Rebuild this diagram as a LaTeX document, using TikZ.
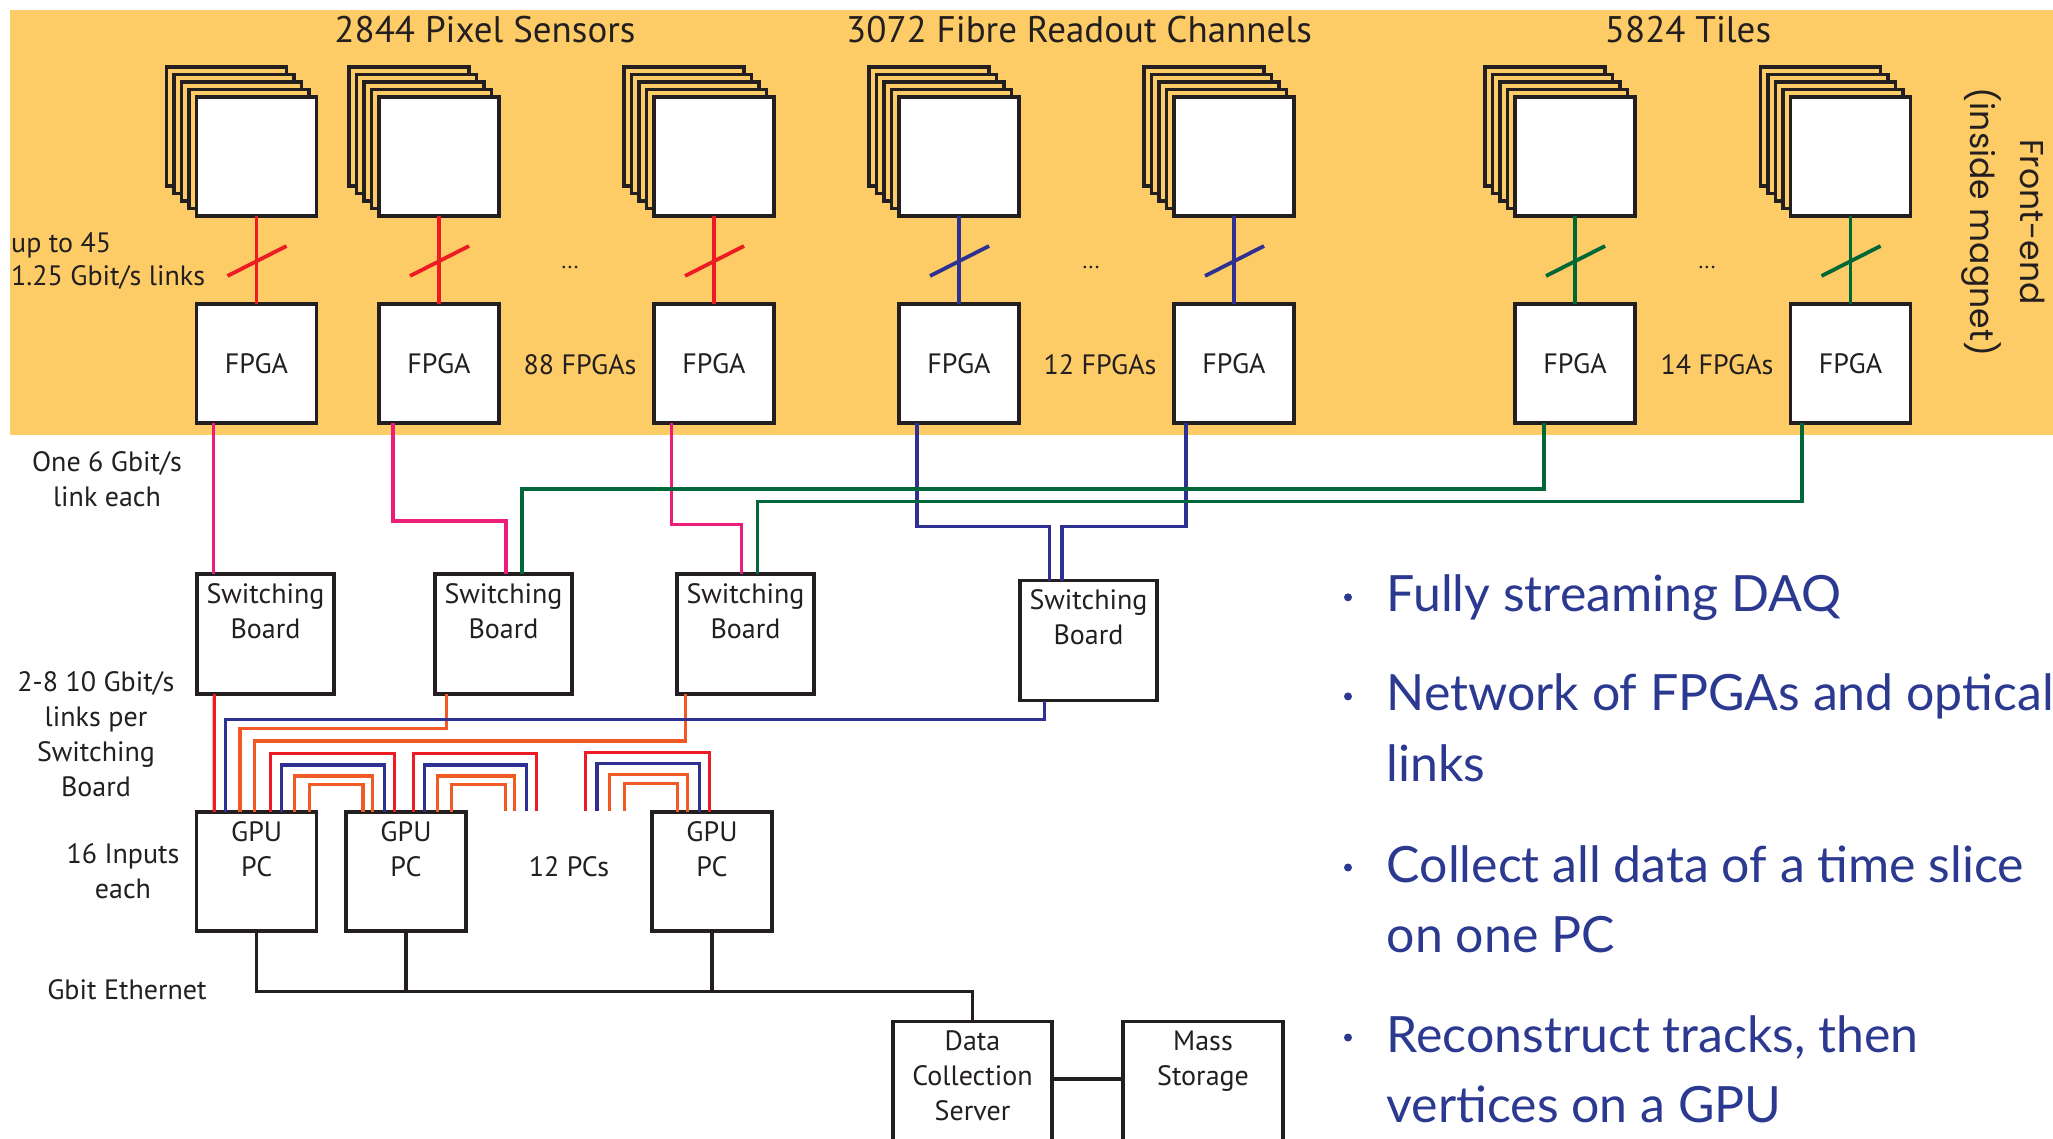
\documentclass[tikz,border=0pt]{standalone}
\usepackage{fontspec}
\setmainfont{PT Sans}
\newfontfamily\geofont{Poppins}
\newfontfamily\slidefont{Lato}
\usetikzlibrary{calc}

\definecolor{bgorange}{RGB}{254,204,102}
\definecolor{ink}{RGB}{35,31,32}
\definecolor{linkred}{RGB}{237,28,36}
\definecolor{linkpink}{RGB}{236,30,121}
\definecolor{linkblue}{RGB}{46,49,146}
\definecolor{linkgreen}{RGB}{0,104,56}
\definecolor{linkorange}{RGB}{241,90,36}
\definecolor{textblue}{RGB}{43,57,144}

\newcommand\lblfont{\fontsize{28}{35}\selectfont}
\newcommand\titlefont{\fontsize{37}{44}\selectfont}

\tikzset{
  box/.style={draw=ink, line width=3.5, fill=white, inner sep=0, outer sep=0,
    minimum width=120, minimum height=119, text=ink},
  layer/.style={draw=ink, line width=3.2, fill=bgorange},
  board/.style={box, minimum width=137, minimum height=120},
  boxtext/.style={anchor=north, align=center, inner sep=9, font=\lblfont, text=ink},
  lbl/.style={font=\lblfont, text=ink, align=center, inner sep=0},
  title/.style={font=\titlefont, text=ink, inner sep=0},
  dots/.style={font=\fontsize{22}{22}\selectfont, text=ink, inner sep=0},
  link/.style={line width=3.1},
  slash/.style={line width=3.8},
  eth/.style={draw=ink, line width=3.2},
  point/.style={font=\slidefont\fontsize{50}{70.5}\selectfont, text=textblue,
    anchor=base west, align=left, inner sep=0},
}

\begin{document}
\begin{tikzpicture}[x=1pt, y=-1pt]
  \useasboundingbox (0,0) rectangle (2053,1139);
  \clip (0,0) rectangle (2053,1139);
  \fill[white] (0,0) rectangle (2053,1139);
  % front-end area
  \fill[bgorange] (10,10) rectangle (2053,435);
  \node[title] (tpix) at (485,30) {2844 Pixel Sensors};
  \node[title] (tfib) at (1079,30) {3072 Fibre Readout Channels};
  \node[title] (ttil) at (1688,30) {5824 Tiles};
  \node[font=\geofont\fontsize{33}{50}\selectfont, rotate=-90, align=center, text=ink]
    (fe) at (2003,222) {Front-end\\(inside magnet)};

  % sensor stacks, optical links, FPGAs
  \foreach \cx/\i/\lc in {256.5/1/linkred, 439/2/linkred, 714/3/linkred,
      959/4/linkblue, 1234/5/linkblue, 1575/6/linkgreen, 1850.5/7/linkgreen}{
    \foreach \k in {4,3,2,1}
      \draw[layer] (\cx-60-7.5*\k, 97-7.5*\k) rectangle ++(120,119);
    \node[box] (s\i) at (\cx,156.5) {};
    \node[box, font=\lblfont] (f\i) at (\cx,363.5) {FPGA};
    \draw[link, draw=\lc] (s\i) -- (f\i);
    \draw[slash, draw=\lc] ($(s\i.south)!.5!(f\i.north)+(-29,16)$) -- ++(59,-30);
  }
  \node[dots] (d1) at (570,267) {...};
  \node[dots] (d2) at (1091,267) {...};
  \node[dots] (d3) at (1707,267) {...};
  \node[lbl] (nf1) at (580,365) {88 FPGAs};
  \node[lbl] (nf2) at (1100,365) {12 FPGAs};
  \node[lbl] (nf3) at (1717,365) {14 FPGAs};
  \node[lbl, align=left, anchor=west, font=\fontsize{28}{33}\selectfont]
    (uplinks) at (11,261.5) {up to 45\\1.25 Gbit/s links};

  % switching boards
  \node[board, label={[boxtext]north:Switching\\Board}] (sb1) at (265.5,634) {};
  \node[board, label={[boxtext]north:Switching\\Board}] (sb2) at (503.5,634) {};
  \node[board, label={[boxtext]north:Switching\\Board}] (sb3) at (745.5,634) {};
  \node[board, label={[boxtext]north:Switching\\Board}] (sb4) at (1088.5,640.5) {};

  % GPU PCs and servers
  \node[box, label={[boxtext]north:GPU\\PC}] (gpu1) at (256.7,871.7) {};
  \node[box, label={[boxtext]north:GPU\\PC}] (gpu2) at (406,871.7) {};
  \node[box, label={[boxtext]north:GPU\\PC}] (gpu3) at (712,871.7) {};
  \node[box, minimum width=159, minimum height=128.6,
    label={[boxtext]north:Data\\Collection\\Server}] (dcs) at (972.5,1086) {};
  \node[box, minimum width=160, minimum height=128.6,
    label={[boxtext]north:Mass\\Storage}] (ms) at (1203,1086) {};

  % side labels
  \node[lbl] (onelink) at (107,479) {One 6 Gbit/s\\link each};
  \node[lbl] (perboard) at (96,734) {2-8 10 Gbit/s\\links per\\Switching\\Board};
  \node[lbl] (inputs) at (123,871) {16 Inputs\\each};
  \node[lbl] (ethlbl) at (127,990) {Gbit Ethernet};
  \node[lbl] (npcs) at (569,867) {12 PCs};

  % FPGA -> switching board links
  \draw[link, draw=linkpink] ([xshift=17]f1.south west) -- ([xshift=16.5]sb1.north west);
  \draw[link, draw=linkpink] ([xshift=14]f2.south west) -- ++(0,98) -| ([xshift=71]sb2.north west);
  \draw[link, draw=linkpink] ([xshift=17.6]f3.south west) -- ++(0,101.6) -| ([xshift=64.7]sb3.north west);
  \draw[link, draw=linkblue] ([xshift=18]f4.south west) -- ++(0,103.7) -| ([xshift=29.6]sb4.north west);
  \draw[link, draw=linkblue] ([xshift=12]f5.south west) -- ++(0,103.7) -| ([xshift=42]sb4.north west);
  \draw[link, draw=linkgreen] ([xshift=29]f6.south west) -- ++(0,66) -| ([xshift=87]sb2.north west);
  \draw[link, draw=linkgreen] ([xshift=11.5]f7.south west) -- ++(0,78.7) -| ([xshift=80.7]sb3.north west);

  % switching board -> PC links
  \draw[link, draw=linkred] ([xshift=17.3]sb1.south west) -- ([xshift=17.5]gpu1.north west);
  \draw[link, draw=linkorange] ([xshift=11.5]sb2.south west) -- ++(0,34.3) -| ([xshift=43.3]gpu1.north west);
  \draw[link, draw=linkorange] ([xshift=8.8]sb3.south west) -- ++(0,47) -| ([xshift=57.8]gpu1.north west);
  \draw[link, draw=linkblue] ([xshift=24.5]sb4.south west) -- ++(0,19) -| ([xshift=29.2]gpu1.north west);

  % links between neighbouring PCs
  \foreach \a/\b/\h/\lc in {73.4/48.1/58.4/linkred, 85/38.5/47.2/linkblue,
      98.2/26.9/36.2/linkorange, 112.8/17/27.9/linkorange}
    \draw[link, draw=\lc] ([xshift=\a]gpu1.north west) -- ++(0,-\h) -| ([xshift=\b]gpu2.north west);
  \foreach \a/\xe/\h/\lc/\j in {67.3/536.4/58.4/linkred/1, 78.5/526.5/47.2/linkblue/2,
      91.3/514.8/36.2/linkorange/3, 105.4/505.3/27.9/linkorange/4}{
    \coordinate (openB\j) at (\xe,811);
    \draw[link, draw=\lc] ([xshift=\a]gpu2.north west) -- ++(0,-\h) -| (openB\j);
  }
  \foreach \xs/\b/\h/\lc/\j in {585.3/57.3/58.4/linkred/1, 597/47.3/47.2/linkblue/2,
      609.4/35.7/36.2/linkorange/3, 624.7/25.4/27.9/linkorange/4}{
    \coordinate (openC\j) at (\xs,811);
    \draw[link, draw=\lc] (openC\j) -- ++(0,-\h) -| ([xshift=\b]gpu3.north west);
  }

  % Gbit Ethernet
  \draw[eth] (gpu1.south) -- ++(0,60) coordinate (bus) -| (dcs.north);
  \draw[eth] (gpu2.south) -- (gpu2.south |- bus);
  \draw[eth] (gpu3.south) -- (gpu3.south |- bus);
  \draw[eth] ([yshift=7]dcs.east) -- ([yshift=7]ms.west);

  % bullet points (base = last line)
  \node[point] (p1) at (1386.5,611.8) {Fully streaming DAQ};
  \node[point] (p2) at (1386.5,781.4) {Network of FPGAs and optical\\links};
  \node[point] (p3) at (1386.5,952.5) {Collect all data of a time slice\\on one PC};
  \node[point] (p4) at (1386.5,1122.5) {Reconstruct tracks, then\\vertices on a GPU};
  \fill[textblue] ([xshift=-38.5,yshift=14.5]p1.base west) circle (4);
  \foreach \p in {2,3,4}
    \fill[textblue] ([xshift=-38.5,yshift=85]p\p.base west) circle (4);
\end{tikzpicture}
\end{document}
